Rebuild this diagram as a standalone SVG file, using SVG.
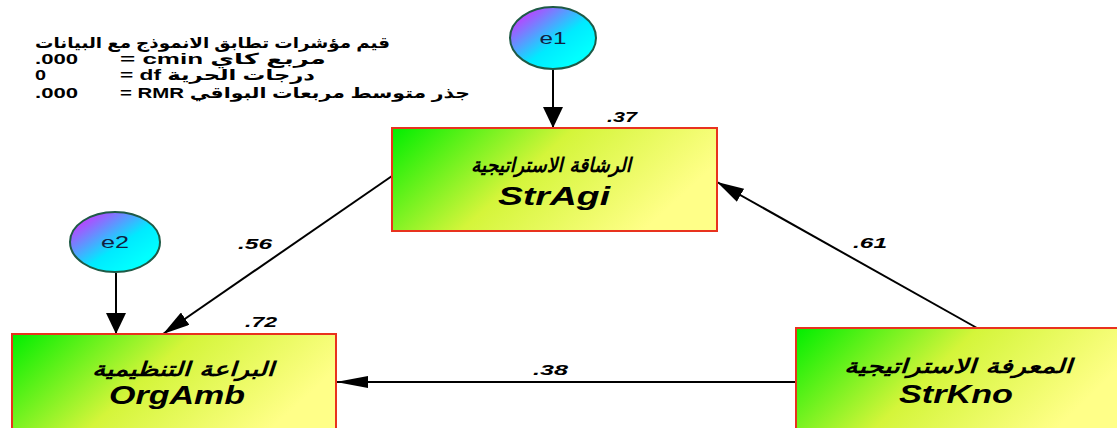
<svg xmlns="http://www.w3.org/2000/svg" width="1117" height="428" viewBox="0 0 1117 428">
<defs>
<linearGradient id="boxg" x1="0" y1="0" x2="1" y2="0.35">
<stop offset="0" stop-color="#00ee00"/>
<stop offset="0.5" stop-color="#d4f53a"/>
<stop offset="1" stop-color="#ffff88"/>
</linearGradient>
<linearGradient id="errg" x1="0.1" y1="0.1" x2="0.8" y2="0.8">
<stop offset="0" stop-color="#cc33ff"/>
<stop offset="0.65" stop-color="#00eaff"/>
<stop offset="1" stop-color="#00ffff"/>
</linearGradient>
<marker id="arrV" markerWidth="21" markerHeight="20" refX="21" refY="10" orient="auto" markerUnits="userSpaceOnUse">
<path d="M0,0 L21,10 L0,20 Z" fill="#000"/>
</marker>
<marker id="arrH" markerWidth="32" markerHeight="12" refX="32" refY="6" orient="auto" markerUnits="userSpaceOnUse">
<path d="M0,0 L32,6 L0,12 Z" fill="#000"/>
</marker>
<marker id="arrD" markerWidth="27" markerHeight="15" refX="27" refY="7.5" orient="auto" markerUnits="userSpaceOnUse">
<path d="M0,0 L27,7.5 L0,15 Z" fill="#000"/>
</marker>
<style>
.box{fill:url(#boxg);stroke:#e8321e;stroke-width:2}
.err{fill:url(#errg);stroke:#1e5a46;stroke-width:2}
.conn{stroke:#000;stroke-width:2;fill:none}
.v{marker-end:url(#arrV)}
.h{marker-end:url(#arrH)}
.d{marker-end:url(#arrD)}
.ar{font-family:"DejaVu Sans","Liberation Sans",sans-serif;font-weight:bold;font-style:italic;font-size:20px;fill:#000}
.lat{font-family:"Liberation Sans",Arial,sans-serif;font-weight:bold;font-style:italic;font-size:25px;fill:#000}
.lbl{font-family:"Liberation Sans",Arial,sans-serif;font-weight:bold;font-style:italic;font-size:15px;fill:#000}
.fit{font-family:"Liberation Sans","DejaVu Sans",sans-serif;font-weight:bold;font-size:15px;fill:#000}
.en{font-family:"Liberation Sans",Arial,sans-serif;font-size:17px;fill:#102040}
</style>
</defs>
<rect width="1117" height="428" fill="#fff"/>
<g id="fit-indices">
<text class="fit" x="35" y="48" textLength="355" lengthAdjust="spacingAndGlyphs">قيم مؤشرات تطابق الانموذج مع البيانات</text>
<text class="fit" x="35" y="64" textLength="43" lengthAdjust="spacingAndGlyphs">.000</text>
<text class="fit" x="120" y="64" textLength="206" lengthAdjust="spacingAndGlyphs">= cmin مربع كاي</text>
<text class="fit" x="35" y="80" textLength="11" lengthAdjust="spacingAndGlyphs">0</text>
<text class="fit" x="120" y="80" textLength="195" lengthAdjust="spacingAndGlyphs">= df درجات الحرية</text>
<text class="fit" x="35" y="98" textLength="43" lengthAdjust="spacingAndGlyphs">.000</text>
<text class="fit" x="120" y="98" textLength="350" lengthAdjust="spacingAndGlyphs">= RMR جذر متوسط مربعات البواقي</text>
</g>
<g id="connectors">
<line class="conn v" x1="553" y1="69" x2="553" y2="128"/>
<line class="conn v" x1="116" y1="273" x2="116" y2="334"/>
<line class="conn d" x1="392" y1="176" x2="163" y2="334"/>
<line class="conn d" x1="977" y1="328" x2="717" y2="182"/>
<line class="conn h" x1="796" y1="382" x2="336" y2="382"/>
<text class="lbl" x="607" y="122" textLength="30" lengthAdjust="spacingAndGlyphs">.37</text>
<text class="lbl" x="245" y="327" textLength="32" lengthAdjust="spacingAndGlyphs">.72</text>
<text class="lbl" x="238" y="249" textLength="34" lengthAdjust="spacingAndGlyphs">.56</text>
<text class="lbl" x="853" y="248" textLength="34" lengthAdjust="spacingAndGlyphs">.61</text>
<text class="lbl" x="533" y="375" textLength="35" lengthAdjust="spacingAndGlyphs">.38</text>
</g>
<g id="e1">
<ellipse class="err" cx="553" cy="38" rx="43" ry="31"/>
<text class="en" x="553" y="44" text-anchor="middle" textLength="27" lengthAdjust="spacingAndGlyphs">e1</text>
</g>
<g id="e2">
<ellipse class="err" cx="115" cy="242" rx="45" ry="30"/>
<text class="en" x="115" y="248" text-anchor="middle" textLength="28" lengthAdjust="spacingAndGlyphs">e2</text>
</g>
<g id="StrAgi">
<rect class="box" x="392" y="128" width="325" height="103"/>
<text class="ar" x="551" y="172" text-anchor="middle" textLength="160" lengthAdjust="spacingAndGlyphs">الرشاقة الاستراتيجية</text>
<text class="lat" x="554" y="205" text-anchor="middle" textLength="112" lengthAdjust="spacingAndGlyphs">StrAgi</text>
</g>
<g id="OrgAmb">
<rect class="box" x="12" y="334" width="324" height="103"/>
<text class="ar" x="183" y="376" text-anchor="middle" textLength="182" lengthAdjust="spacingAndGlyphs">البراعة التنظيمية</text>
<text class="lat" x="177" y="404" text-anchor="middle" textLength="136" lengthAdjust="spacingAndGlyphs">OrgAmb</text>
</g>
<g id="StrKno">
<rect class="box" x="796" y="328" width="325" height="110"/>
<text class="ar" x="958" y="373" text-anchor="middle" textLength="228" lengthAdjust="spacingAndGlyphs">المعرفة الاستراتيجية</text>
<text class="lat" x="956" y="403" text-anchor="middle" textLength="114" lengthAdjust="spacingAndGlyphs">StrKno</text>
</g>
</svg>
